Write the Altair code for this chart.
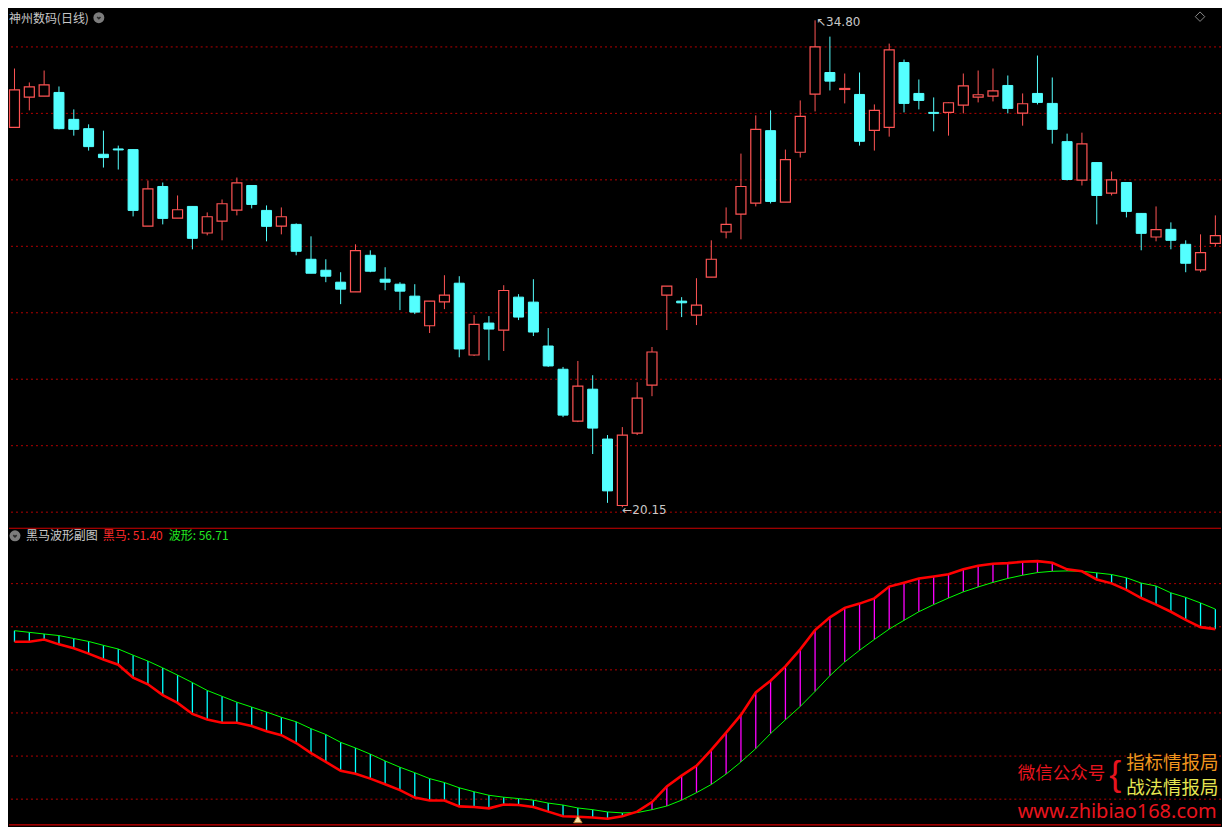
import altair as alt
import pandas as pd

# ---------------- data ----------------
opens = [31.58, 32.49, 32.52, 32.63, 31.82, 31.54, 30.77, 30.93, 30.91, 28.61,
         29.80, 28.85, 29.20, 28.40, 28.76, 29.09, 29.83, 29.08, 28.61, 28.66,
         27.61, 27.28, 26.92, 26.63, 27.73, 27.01, 26.86, 26.50, 25.61, 26.33,
         26.89, 24.73, 25.69, 25.48, 26.47, 26.32, 25.00, 24.30, 22.74, 23.70,
         22.20, 20.20, 22.38, 23.82, 26.53, 26.35, 25.93, 27.07, 28.43, 28.97,
         29.30, 31.48, 29.33, 30.83, 32.58, 33.23, 32.72, 32.57, 31.49, 31.58,
         33.53, 32.60, 32.03, 32.03, 32.25, 32.49, 32.52, 32.84, 32.01, 32.60,
         32.30, 31.15, 29.99, 30.52, 29.60, 29.92, 28.99, 28.28, 28.51, 28.06,
         27.29, 28.09]
highs = [33.35, 32.93, 33.29, 32.81, 32.12, 31.67, 31.48, 31.03, 30.91, 29.98,
         29.92, 29.53, 29.20, 29.02, 29.41, 30.07, 29.83, 29.23, 29.17, 28.69,
         28.30, 27.61, 27.22, 28.06, 27.88, 27.37, 26.92, 26.86, 26.35, 27.13,
         27.10, 25.93, 25.90, 26.83, 26.56, 27.01, 25.54, 24.37, 24.55, 24.12,
         22.32, 22.56, 23.91, 24.97, 26.80, 26.47, 27.04, 28.18, 29.17, 30.79,
         31.94, 32.09, 30.91, 32.39, 34.80, 34.31, 33.20, 33.23, 32.27, 34.10,
         33.62, 33.02, 32.48, 32.33, 33.20, 33.29, 33.35, 33.14, 32.60, 33.74,
         33.08, 31.39, 31.42, 30.52, 30.25, 29.92, 28.99, 29.20, 28.72, 28.18,
         28.36, 28.93]
lows = [31.58, 32.09, 32.52, 31.52, 31.33, 30.88, 30.37, 30.31, 28.90, 28.61,
        28.66, 28.85, 27.91, 28.33, 28.18, 28.93, 29.14, 28.15, 28.36, 27.73,
        27.19, 26.92, 26.26, 26.63, 27.22, 26.68, 26.08, 25.96, 25.39, 26.11,
        24.66, 24.70, 24.57, 24.85, 25.78, 25.30, 24.37, 22.86, 22.71, 21.75,
        20.28, 20.15, 22.32, 23.49, 25.48, 25.87, 25.63, 27.07, 28.24, 28.21,
        29.20, 29.29, 29.33, 30.67, 32.06, 32.69, 32.30, 31.03, 30.88, 31.30,
        32.03, 32.12, 31.46, 31.33, 32.00, 32.33, 32.36, 32.00, 31.63, 32.27,
        31.09, 29.98, 29.83, 28.66, 29.53, 28.87, 27.88, 28.15, 27.91, 27.22,
        27.22, 28.00]
closes = [32.71, 32.80, 32.86, 31.54, 31.52, 31.00, 30.67, 30.90, 29.08, 29.73,
          28.84, 29.10, 28.24, 28.89, 29.28, 29.91, 29.26, 28.60, 28.89, 27.85,
          27.19, 27.10, 26.71, 27.87, 27.25, 26.92, 26.65, 26.02, 26.35, 26.53,
          24.91, 25.65, 25.51, 26.67, 25.87, 25.42, 24.40, 22.92, 23.79, 22.53,
          20.64, 22.32, 23.43, 24.82, 26.80, 26.30, 26.23, 27.61, 28.66, 29.80,
          31.52, 29.35, 30.61, 31.91, 34.00, 32.97, 32.75, 31.16, 32.09, 33.91,
          32.30, 32.39, 32.00, 32.32, 32.83, 32.56, 32.68, 32.15, 32.29, 32.33,
          31.52, 30.01, 31.08, 29.53, 30.00, 29.05, 28.39, 28.50, 28.18, 27.49,
          27.81, 28.32]

# 黑马 (red line)
heima = [48.02, 48.02, 48.64, 47.34, 46.29, 44.89, 43.33, 41.95, 38.49, 36.74,
         33.88, 31.80, 28.85, 27.37, 26.51, 26.51, 25.63, 24.25, 23.21, 21.13,
         18.44, 16.10, 13.76, 12.98, 11.67, 10.19, 8.63, 6.63, 5.85, 5.85,
         4.29, 4.13, 3.77, 4.81, 4.65, 4.13, 2.90, 1.68, 1.52, 1.34,
         1.00, 1.68, 2.90, 5.43, 9.59, 12.46, 15.06, 19.30, 23.91, 28.59,
         34.58, 37.70, 41.51, 46.03, 51.14, 54.52, 57.05, 58.17, 59.57, 62.69,
         63.73, 64.86, 65.38, 65.98, 67.28, 68.24, 68.76, 68.94, 69.28, 69.46,
         69.02, 67.28, 66.76, 64.60, 63.55, 61.81, 59.65, 57.91, 56.01, 53.84,
         51.92, 51.40]
# 波形 (green line)
boxing = [50.98, 50.54, 50.10, 49.68, 48.90, 48.12, 47.08, 46.11, 44.47, 42.91,
          41.09, 39.17, 37.18, 35.10, 33.54, 31.98, 30.68, 29.37, 27.97, 26.77,
          24.95, 23.39, 21.31, 19.82, 18.18, 16.36, 14.70, 13.24, 11.67, 10.63,
          9.23, 8.19, 7.25, 6.73, 6.37, 5.95, 5.17, 4.65, 3.87, 3.42,
          2.82, 2.56, 2.64, 3.42, 4.39, 5.95, 7.93, 10.11, 12.88, 16.10,
          19.64, 23.65, 27.29, 30.84, 34.84, 39.01, 42.65, 45.77, 48.64, 51.40,
          53.74, 56.01, 57.91, 59.65, 61.29, 62.59, 63.81, 64.86, 65.72, 66.42,
          66.76, 66.86, 66.76, 66.34, 65.90, 65.04, 63.63, 62.85, 61.03, 59.83,
          58.35, 56.71]

price_grid = [20, 22, 24, 26, 28, 30, 32, 34]
ind_grid = [6.21, 17.66, 29.12, 40.57, 52.02, 63.48]
ind_frame = [78.2, -0.6]
signal_idx = [38]
signal_val = [0.9]

# ---------------- styling / layout ----------------
W, H = 1214, 818
RED_C = "#ff5454"
CYAN_C = "#54ffff"
GRID_C = "#b40000"
GRAY = "#c8c8c8"
CJK = "Noto Sans CJK SC"

n = len(opens)
idx = list(range(n))
c = pd.DataFrame({"i": idx, "open": opens, "high": highs, "low": lows, "close": closes})
c["top"] = c[["open", "close"]].max(axis=1)
c["bot"] = c[["open", "close"]].min(axis=1)
c["dir"] = ["up" if cl >= op else "down" for op, cl in zip(opens, closes)]
up = c[c["dir"] == "up"]
dn = c[c["dir"] == "down"]

xs = alt.Scale(domain=[-0.37037, 81.3805], nice=False, zero=False, padding=0)
X = alt.X("i:Q", scale=xs, axis=None)
ps = alt.Scale(domain=[10.576, 35.151], nice=False, zero=False)
vs = alt.Scale(domain=[-0.74, 216.25], nice=False, zero=False)

# ---------------- top panel: candles ----------------
grid_top = alt.Chart(pd.DataFrame({"p": price_grid})).mark_rule(
    color=GRID_C, strokeDash=[2, 3], strokeWidth=1
).encode(y=alt.Y("p:Q", scale=ps, axis=None))

wick_up = alt.Chart(up).mark_rule(color=RED_C, strokeWidth=1).encode(
    x=X, y=alt.Y("high:Q", scale=ps, axis=None), y2="low:Q")
wick_dn = alt.Chart(dn).mark_rule(color=CYAN_C, strokeWidth=1).encode(
    x=X, y=alt.Y("high:Q", scale=ps, axis=None), y2="low:Q")
body_up = alt.Chart(up).mark_bar(size=10, fill="#000000", stroke=RED_C, strokeWidth=1.2).encode(
    x=X, y=alt.Y("top:Q", scale=ps, axis=None), y2="bot:Q")
body_dn = alt.Chart(dn).mark_bar(size=10, fill=CYAN_C, stroke=CYAN_C, strokeWidth=1).encode(
    x=X, y=alt.Y("top:Q", scale=ps, axis=None), y2="bot:Q")

hi_i = highs.index(max(highs))
lo_i = lows.index(min(lows))
hi_lab = alt.Chart(pd.DataFrame({"i": [hi_i], "v": [highs[hi_i]], "t": [f"↖{highs[hi_i]:.2f}"]})).mark_text(
    align="left", baseline="top", dx=1, dy=-3, color=GRAY, fontSize=12, font="DejaVu Sans"
).encode(x=X, y=alt.Y("v:Q", scale=ps, axis=None), text="t:N")
lo_lab = alt.Chart(pd.DataFrame({"i": [lo_i], "v": [lows[lo_i]], "t": [f"←{lows[lo_i]:.2f}"]})).mark_text(
    align="left", baseline="middle", dx=0, dy=3, color=GRAY, fontSize=12, font="DejaVu Sans"
).encode(x=X, y=alt.Y("v:Q", scale=ps, axis=None), text="t:N")

top = alt.layer(grid_top, wick_up, wick_dn, body_up, body_dn, hi_lab, lo_lab)

# ---------------- bottom panel: indicator ----------------
ind = pd.DataFrame({"i": idx, "hm": heima, "bx": boxing})
grid_bot = alt.Chart(pd.DataFrame({"v": ind_grid})).mark_rule(
    color=GRID_C, strokeDash=[2, 3], strokeWidth=1
).encode(y=alt.Y("v:Q", scale=vs, axis=None))
frame = alt.Chart(pd.DataFrame({"v": ind_frame})).mark_rule(
    color="#d00000", strokeWidth=1.2
).encode(y=alt.Y("v:Q", scale=vs, axis=None))
conn_dn = alt.Chart(ind[ind["hm"] < ind["bx"]]).mark_rule(color="#00ffff", strokeWidth=1.3).encode(
    x=X, y=alt.Y("hm:Q", scale=vs, axis=None), y2="bx:Q")
conn_up = alt.Chart(ind[ind["hm"] > ind["bx"]]).mark_rule(color="#ff00ff", strokeWidth=1.3).encode(
    x=X, y=alt.Y("hm:Q", scale=vs, axis=None), y2="bx:Q")
green_line = alt.Chart(ind).mark_line(color="#00ff00", strokeWidth=1).encode(
    x=X, y=alt.Y("bx:Q", scale=vs, axis=None))
red_line = alt.Chart(ind).mark_line(color="#ff0000", strokeWidth=2.6).encode(
    x=X, y=alt.Y("hm:Q", scale=vs, axis=None))
signal = alt.Chart(pd.DataFrame({"i": signal_idx, "v": signal_val})).mark_point(
    shape="triangle-up", filled=True, fill="#f6e4a8", stroke="#c07a30", strokeWidth=1, size=70, opacity=1
).encode(x=X, y=alt.Y("v:Q", scale=vs, axis=None))

bot = alt.layer(grid_bot, frame, conn_dn, conn_up, green_line, red_line, signal)

# ---------------- annotations ----------------
one = pd.DataFrame({"a": [0]})


def txt(s, x, y, color, size=12, align="left", font=CJK, baseline="middle"):
    return alt.Chart(one).mark_text(
        text=s, align=align, baseline=baseline, color=color, fontSize=size, font=font
    ).encode(x=alt.value(x), y=alt.value(y))


def icon(x, y):
    circ = alt.Chart(one).mark_point(shape="circle", filled=True, color="#7c7c7c", size=120, opacity=1).encode(
        x=alt.value(x), y=alt.value(y))
    chev = alt.Chart(one).mark_point(shape="M-0.5,-0.2L0,0.3L0.5,-0.2", filled=False, stroke="#2a2a2a",
                                     strokeWidth=1.6, size=45, opacity=1).encode(
        x=alt.value(x), y=alt.value(y))
    return [circ, chev]


ann_layers = [
    txt("神州数码(日线)", 0, 10, GRAY),
    *icon(90, 9),
    alt.Chart(one).mark_point(shape="diamond", filled=False, stroke="#8a8a8a", strokeWidth=1, size=90,
                              opacity=1).encode(x=alt.value(1193), y=alt.value(8)),
    *icon(6, 528),
    txt("黑马波形副图", 17, 528, GRAY),
    txt(f"黑马: {heima[-1]:.2f}", 94, 528, "#ff2a2a"),
    txt(f"波形: {boxing[-1]:.2f}", 160, 528, "#22e622"),
    txt("微信公众号", 1098, 767, "#e8141e", size=17.5, align="right"),
    txt("{", 1108, 768, "#e8141e", size=36, align="center", font="Liberation Sans"),
    txt("指标情报局", 1119, 756, "#f0961e", size=18.5),
    txt("战法情报局", 1119, 781, "#e6e650", size=18.5),
    txt("www.zhibiao168.com", 1110, 805, "#e8141e", size=20, align="center", font="Noto Sans"),
]
ann = alt.layer(*ann_layers)

chart = alt.layer(top, bot, ann).resolve_scale(y="independent").properties(
    width=W, height=H, background="#000000", padding=0
).configure_view(stroke=None)

chart.save("out.html", embed_options={"renderer": "svg", "actions": False})
